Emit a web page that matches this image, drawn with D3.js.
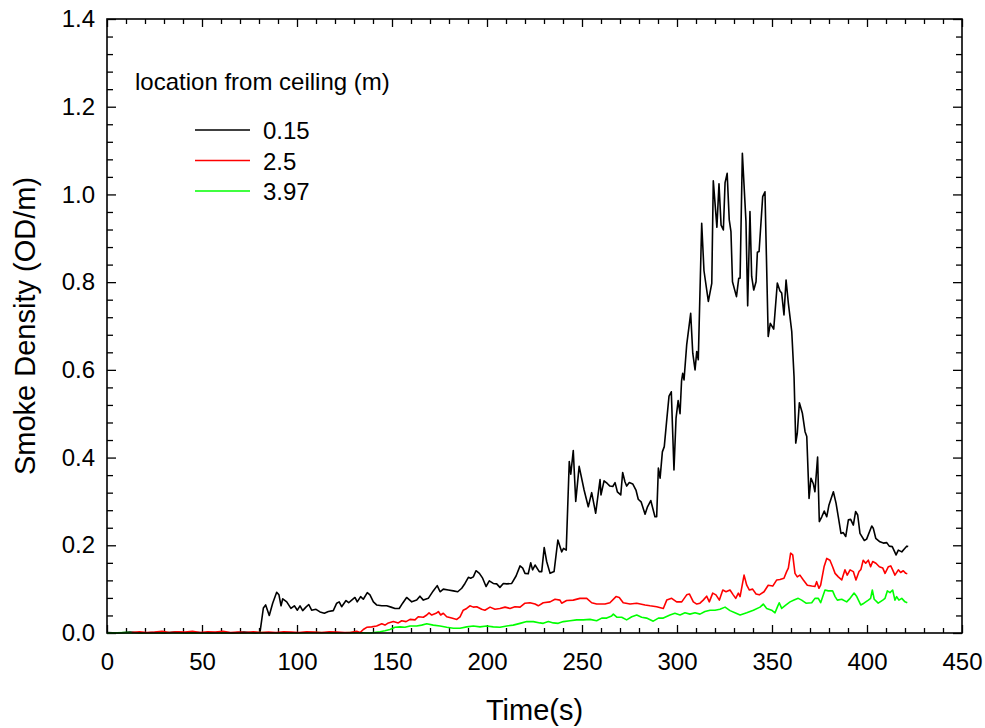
<!DOCTYPE html>
<html>
<head>
<meta charset="utf-8">
<script src="https://cdn.jsdelivr.net/npm/d3@7"></script>
<style>
  body { margin: 0; background: #fff; }
  text { font-family: "Liberation Sans", Arial, sans-serif; fill: #000; }
</style>
</head>
<body>
<svg width="985" height="728"></svg>
<script>
const svg = d3.select('svg');
const width = +svg.attr('width');
const height = +svg.attr('height');
const margin = { top: 19, right: 23, bottom: 95, left: 107 };

// tick values
const xTicks = [0, 50, 100, 150, 200, 250, 300, 350, 400, 450];
const yTicks = [0, 0.2, 0.4, 0.6, 0.8, 1.0, 1.2, 1.4];

// legend
const legendTitle = 'location from ceiling (m)';
const seriesNames = ['0.15', '2.5', '3.97'];
const seriesColors = ['#000000', '#ff0000', '#00ff00'];

// [time (s), smoke density (OD/m)]
const s015 = [
  [0,0.001],[6,0],[12,0.002],[18,0],[24,0.001],[30,0],[36,0.002],[42,0],[48,0.001],[54,0],[60,0.001],[66,0],[72,0.002],[78,0],[80.5,0.001],
  [82.3,0.057],[83.5,0.064],[85.4,0.04],[87.2,0.068],[89.3,0.093],[90.5,0.087],[91.6,0.062],[92.5,0.078],[94.6,0.071],[96.8,0.056],[98.6,0.062],
  [100.2,0.052],[101.6,0.062],[103,0.051],[104.7,0.059],[106.2,0.065],[107.7,0.052],[110,0.054],[112.1,0.048],[114.4,0.045],[116.5,0.049],
  [119.1,0.051],[120.9,0.068],[122.2,0.071],[123.5,0.06],[125.8,0.074],[127.2,0.069],[128.8,0.075],[130.5,0.081],[131.7,0.071],[133.5,0.083],
  [134.9,0.077],[137,0.092],[138.4,0.087],[140.2,0.071],[141.9,0.064],[144.6,0.062],[147.2,0.062],[149.5,0.059],[151.6,0.056],[153.8,0.056],
  [155.6,0.068],[157.7,0.081],[160.4,0.071],[163,0.075],[164.7,0.084],[166.5,0.075],[169.1,0.079],[171.7,0.096],[173.8,0.108],[175.3,0.094],
  [177,0.1],[179.6,0.098],[182.3,0.096],[184.6,0.094],[186.7,0.102],[188.4,0.113],[190.2,0.127],[191.4,0.125],[192.8,0.128],[194.2,0.142],
  [196,0.136],[197.7,0.125],[199.5,0.106],[201.2,0.119],[203.3,0.113],[205.1,0.112],[206.8,0.104],[208.6,0.113],[210.4,0.112],[213,0.113],
  [215.3,0.13],[217.4,0.153],[218.8,0.148],[220,0.136],[221.7,0.135],[223,0.16],[224,0.144],[225.3,0.155],[227.5,0.14],[228.8,0.14],
  [230.1,0.195],[231.4,0.163],[233.2,0.136],[235.3,0.14],[237.3,0.212],[239.3,0.185],[240.3,0.193],[241.7,0.189],[243.3,0.391],[244.1,0.362],
  [245.4,0.416],[246.7,0.3],[248.5,0.38],[251.1,0.326],[253.3,0.288],[255.1,0.32],[257.2,0.273],[259.5,0.35],[260,0.315],[261.6,0.347],
  [263.3,0.341],[264.7,0.335],[266.2,0.334],[267.4,0.343],[268.6,0.322],[270.4,0.315],[271.4,0.366],[272.6,0.345],[273.5,0.335],[274.9,0.343],
  [276.7,0.34],[278.4,0.326],[279.6,0.305],[281.1,0.299],[283.2,0.271],[284.4,0.287],[286.2,0.302],[288.4,0.265],[289.3,0.265],[290.2,0.376],
  [291.1,0.353],[292.3,0.413],[293.3,0.425],[294.6,0.486],[295.8,0.54],[297,0.55],[298.4,0.372],[299.5,0.49],[300.6,0.53],[301.6,0.5],
  [302.4,0.575],[303,0.592],[303.7,0.577],[305.1,0.657],[307.2,0.729],[308.3,0.638],[309.5,0.6],[310.4,0.642],[311.2,0.623],[313,0.934],
  [314.2,0.826],[316.5,0.756],[318.3,0.797],[319.1,1.031],[321,0.925],[322.1,1.024],[323.2,0.93],[324.4,0.919],[325.3,1.027],[326.4,1.048],
  [327.5,0.942],[328.4,0.915],[329.2,0.801],[331.3,0.767],[332.5,0.809],[333.2,0.809],[334.4,1.094],[336.3,0.938],[337.2,0.746],[338.4,0.961],
  [339.3,0.813],[340.4,0.782],[341.6,0.801],[342.3,0.868],[343.2,0.87],[345.1,0.995],[346.3,1.006],[348,0.676],[349.1,0.706],[350.9,0.693],
  [352.8,0.798],[354.2,0.78],[355.1,0.775],[356.3,0.725],[357.4,0.805],[358.6,0.752],[360.4,0.687],[361.6,0.585],[362.5,0.433],[363.3,0.455],
  [364.4,0.525],[366,0.501],[367.4,0.459],[368.3,0.448],[369.5,0.307],[370.5,0.353],[371.7,0.341],[372.6,0.322],[374,0.401],[374.9,0.254],
  [376.2,0.265],[377.5,0.278],[378.8,0.265],[380,0.292],[382.3,0.322],[383.7,0.296],[384.9,0.265],[386.3,0.227],[387.5,0.229],[388.8,0.22],
  [390.2,0.258],[391.4,0.259],[392.8,0.246],[394,0.277],[395.1,0.269],[396.3,0.227],[398.6,0.211],[399.8,0.214],[402.5,0.244],[403.3,0.239],
  [404.6,0.216],[406.8,0.208],[408.6,0.205],[410.4,0.206],[411.7,0.198],[413.3,0.197],[415.3,0.178],[416.5,0.189],[418.3,0.185],[419.5,0.191],
  [420.9,0.198],[421.7,0.197]
];

const s25 = [
  [13,0.001],[17,0.003],[21,0.001],[25,0.002],[29,0.004],[33,0.001],[37,0.003],[41,0.002],[45,0.004],[49,0.001],[53,0.003],[57,0.002],
  [61,0.004],[65,0.001],[69,0.002],[73,0.001],[77,0.003],[81,0.001],[85,0.002],[89,0.001],[93,0.003],[97,0.002],[101,0.001],[105,0.003],
  [109,0.002],[113,0.001],[117,0.003],[121,0.002],[125,0.001],[127.9,0.001],[131.4,0.004],[133.2,0.001],[134.9,0.008],[136.7,0.013],
  [139.3,0.014],[141.9,0.016],[144.6,0.021],[146.3,0.018],[148.1,0.023],[150.7,0.026],[153.3,0.023],[155.1,0.028],[157.4,0.026],[159.5,0.031],
  [162.1,0.03],[163.8,0.037],[166.5,0.036],[168.3,0.041],[169.5,0.046],[170.9,0.041],[173.2,0.045],[174.4,0.049],[175.6,0.041],[177,0.045],
  [178.8,0.037],[181.4,0.034],[184.1,0.031],[185.8,0.037],[187.5,0.052],[189.3,0.056],[191,0.062],[192.8,0.059],[194.6,0.06],[197.2,0.054],
  [198.9,0.052],[201.6,0.059],[204.2,0.054],[206.8,0.056],[209.5,0.059],[212.1,0.056],[214.7,0.06],[217.4,0.059],[220,0.068],[222.6,0.069],
  [225.3,0.066],[227,0.062],[229.6,0.069],[233.2,0.071],[235.8,0.077],[238.4,0.075],[239.3,0.068],[241.9,0.074],[245.4,0.075],[248.9,0.079],
  [252.5,0.079],[255.1,0.069],[257.7,0.066],[262.1,0.066],[264.7,0.069],[267.9,0.083],[269.6,0.081],[271.7,0.069],[275.3,0.066],[278.8,0.068],
  [283.2,0.064],[285.8,0.062],[289.3,0.06],[292.8,0.056],[294.6,0.075],[297.2,0.079],[299.8,0.071],[302.5,0.071],[305.1,0.087],[306.5,0.089],
  [308.6,0.071],[310.4,0.066],[312.1,0.068],[313.8,0.075],[315.6,0.084],[317,0.071],[318.8,0.091],[320.5,0.087],[322.3,0.075],[324.1,0.098],
  [325.8,0.094],[327.9,0.098],[329.6,0.087],[330.9,0.079],[332.3,0.091],[333.2,0.083],[335.3,0.132],[336.7,0.109],[338.1,0.098],[339.8,0.1],
  [341.6,0.089],[343.3,0.087],[345.8,0.094],[348,0.109],[350.4,0.107],[352.5,0.121],[354.2,0.122],[356.3,0.125],[357.7,0.14],[358.6,0.148],
  [359.8,0.182],[360.9,0.178],[362.1,0.136],[363.3,0.128],[364.7,0.132],[366.5,0.121],[368.6,0.109],[370.9,0.107],[372.6,0.106],[373.5,0.117],
  [374.7,0.102],[375.6,0.109],[377.4,0.151],[378.8,0.17],[380.5,0.166],[381.9,0.151],[383.2,0.136],[384.9,0.128],[386.7,0.121],[388.4,0.144],
  [389.6,0.132],[391.1,0.144],[392.8,0.14],[394.2,0.121],[395.8,0.14],[396.8,0.145],[398,0.166],[399.3,0.159],[400.7,0.166],[401.9,0.151],
  [403,0.163],[404.7,0.159],[406.5,0.151],[408.3,0.148],[409.5,0.136],[411.2,0.151],[412.5,0.153],[413.5,0.144],[414.7,0.132],[416.5,0.144],
  [417.7,0.138],[419.1,0.142],[420.4,0.136],[421.2,0.135]
];

const s397 = [
  [0,0],[10,0.001],[20,0],[30,0.001],[40,0],[50,0],[60,0.001],[70,0],[80,0.001],[90,0],[100,0],[110,0.001],[120,0],[130,0.001],
  [138.4,0],[143.7,0.003],[146.3,0.005],[148.9,0.008],[151.6,0.013],[154.2,0.014],[156.8,0.013],[159.5,0.016],[163,0.016],[165.6,0.018],
  [168.3,0.021],[171.7,0.018],[175.3,0.016],[178.8,0.013],[182.3,0.011],[185.8,0.011],[189.3,0.014],[192.8,0.016],[196.3,0.014],[199.8,0.016],
  [203.3,0.014],[206.8,0.013],[210.4,0.016],[213.8,0.018],[217.4,0.022],[220.9,0.026],[224.4,0.026],[227.9,0.023],[229.6,0.022],[232.3,0.026],
  [234.9,0.023],[237.5,0.022],[240.2,0.026],[243.7,0.028],[247.2,0.03],[250.7,0.03],[254.2,0.031],[257.7,0.028],[260.4,0.034],[263,0.034],
  [265.6,0.039],[266.5,0.043],[268.3,0.036],[270.9,0.036],[273.5,0.03],[276.2,0.037],[278.8,0.041],[281.4,0.036],[284,0.034],[287.5,0.027],
  [290.2,0.034],[292.8,0.034],[296.3,0.041],[298.9,0.045],[301.6,0.041],[304.2,0.046],[306.8,0.043],[309.5,0.046],[312.1,0.043],[314.7,0.049],
  [317.4,0.052],[320,0.052],[322.6,0.054],[325.3,0.059],[327.9,0.051],[330.5,0.046],[333.2,0.041],[336.7,0.046],[340.2,0.052],[343.7,0.059],
  [345.4,0.066],[347.2,0.056],[349.8,0.052],[351.6,0.046],[352.8,0.059],[353.8,0.069],[355.1,0.056],[357.4,0.064],[359.5,0.071],[361.6,0.075],
  [363.8,0.079],[365.6,0.075],[367.9,0.068],[370.9,0.069],[372.6,0.079],[374.4,0.079],[375.6,0.069],[377.9,0.098],[379.6,0.096],[381.9,0.096],
  [383.2,0.083],[384.4,0.075],[386.7,0.077],[389.3,0.071],[391.1,0.079],[393.2,0.091],[394.6,0.083],[396.7,0.064],[398.4,0.068],[400.7,0.075],
  [401.9,0.079],[402.8,0.098],[403.8,0.077],[405.9,0.068],[408.3,0.075],[409.5,0.079],[410.7,0.096],[412.1,0.092],[413.5,0.098],[414.7,0.075],
  [415.6,0.083],[416.8,0.075],[418.3,0.079],[420,0.071],[421.2,0.069]
];

const x = d3.scaleLinear().domain([0, 450]).range([margin.left, width - margin.right]);
const y = d3.scaleLinear().domain([0, 1.4]).range([height - margin.bottom, margin.top]);

const xMinor = d3.range(0, 451, 10).filter(d => d % 50 !== 0);
const yMinor = d3.range(0, 1.401, 0.04).filter(d => Math.abs(d / 0.2 - Math.round(d / 0.2)) > 1e-6);

const tickStyle = g => {
  g.select('.domain').remove();
  g.selectAll('.tick line').attr('stroke', '#000').attr('stroke-width', 1.3);
};

// major / minor ticks on all four sides, pointing inward
const bottom = height - margin.bottom;
const right = width - margin.right;

svg.append('g').attr('transform', `translate(0,${bottom})`)
  .call(d3.axisBottom(x).tickValues(xTicks).tickSize(-8).tickPadding(20).tickFormat(d3.format('d')))
  .call(tickStyle)
  .call(g => g.selectAll('text').attr('font-size', 24).attr('fill', '#000'));
svg.append('g').attr('transform', `translate(0,${bottom})`)
  .call(d3.axisBottom(x).tickValues(xMinor).tickSize(-5).tickFormat(''))
  .call(tickStyle);
svg.append('g').attr('transform', `translate(0,${margin.top})`)
  .call(d3.axisTop(x).tickValues(xTicks).tickSize(-8).tickFormat(''))
  .call(tickStyle);
svg.append('g').attr('transform', `translate(0,${margin.top})`)
  .call(d3.axisTop(x).tickValues(xMinor).tickSize(-5).tickFormat(''))
  .call(tickStyle);

svg.append('g').attr('transform', `translate(${margin.left},0)`)
  .call(d3.axisLeft(y).tickValues(yTicks).tickSize(-9).tickPadding(12).tickFormat(d3.format('.1f')))
  .call(tickStyle)
  .call(g => g.selectAll('text').attr('font-size', 24).attr('fill', '#000'));
svg.append('g').attr('transform', `translate(${margin.left},0)`)
  .call(d3.axisLeft(y).tickValues(yMinor).tickSize(-6).tickFormat(''))
  .call(tickStyle);
svg.append('g').attr('transform', `translate(${right},0)`)
  .call(d3.axisRight(y).tickValues(yTicks).tickSize(-9).tickFormat(''))
  .call(tickStyle);
svg.append('g').attr('transform', `translate(${right},0)`)
  .call(d3.axisRight(y).tickValues(yMinor).tickSize(-6).tickFormat(''))
  .call(tickStyle);

// lines
const line = d3.line().x(d => x(d[0])).y(d => y(d[1]));
const drawOrder = [[s015, 0], [s397, 2], [s25, 1]];
drawOrder.forEach(([data, i]) => {
  svg.append('path')
    .datum(data)
    .attr('fill', 'none')
    .attr('stroke', seriesColors[i])
    .attr('stroke-width', 1.6)
    .attr('stroke-linejoin', 'round')
    .attr('d', line);
});

// frame
svg.append('rect')
  .attr('x', margin.left).attr('y', margin.top)
  .attr('width', right - margin.left).attr('height', bottom - margin.top)
  .attr('fill', 'none').attr('stroke', '#000').attr('stroke-width', 1.6);

// axis titles
svg.append('text')
  .attr('x', (margin.left + right) / 2).attr('y', 720)
  .attr('text-anchor', 'middle').attr('font-size', 29)
  .text('Time(s)');
svg.append('text')
  .attr('transform', `translate(35,${(margin.top + bottom) / 2}) rotate(-90)`)
  .attr('text-anchor', 'middle').attr('font-size', 29)
  .text('Smoke Density (OD/m)');

// legend
svg.append('text').attr('x', 135).attr('y', 90).attr('font-size', 24).text(legendTitle);
const legend = svg.append('g');
seriesNames.forEach((name, i) => {
  const ly = 130 + i * 30.5;
  legend.append('line')
    .attr('x1', 195).attr('x2', 250).attr('y1', ly).attr('y2', ly)
    .attr('stroke', seriesColors[i]).attr('stroke-width', 1.6);
  legend.append('text').attr('x', 263).attr('y', ly + 9).attr('font-size', 24).text(name);
});
</script>
</body>
</html>
